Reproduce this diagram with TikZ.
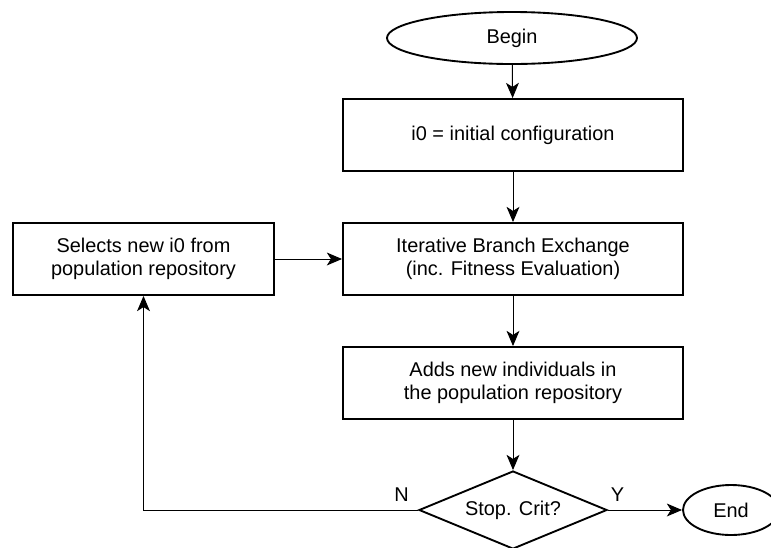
\documentclass[tikz,border=0pt]{standalone}
\usepackage{fontspec}
\setmainfont{Liberation Sans}
\usetikzlibrary{arrows.meta,positioning,shapes.geometric}
\tikzset{>={Stealth[length=13pt,width=11pt,inset=3.5pt]},line width=.85pt,
  every node/.style={font=\fontsize{17}{20}\selectfont},
  flow/.style={->,draw=black,line width=.85pt},
  terminal/.style={draw,ellipse,line width=1.6pt,inner sep=0pt},
  decision/.style={draw,diamond,aspect=2.4,line width=1.6pt,inner sep=0pt},
  branchlabel/.style={inner sep=2pt}}
\begin{document}
\begin{tikzpicture}[x=.03cm,y=-.03cm,block/.style={draw,line width=1.6pt,minimum width=10.2cm,minimum height=2.16cm,align=center}]
\useasboundingbox (0,0) rectangle (771,547);
\node[terminal,minimum width=7.5cm,minimum height=1.56cm] (begin) at (512,38) {Begin};
\node[block] (init) at (513,135) {i0 = initial configuration};
\node[block] (ibe) at (513,259) {Iterative Branch Exchange\\(inc. Fitness Evaluation)};
\node[block,minimum width=7.83cm] (select) at (143.5,259) {Selects new i0 from\\population repository};
\node[block] (adds) at (513,383) {Adds new individuals in\\the population repository};
\node[decision,minimum width=5.64cm,minimum height=2.34cm] (stop) at (513,510) {Stop. Crit?};
\node[terminal,minimum width=2.88cm,minimum height=1.5cm] (end) at (731,510) {End};
\draw[flow] (begin)--(init);\draw[flow] (init)--(ibe);
\draw[flow] (ibe)--(adds);\draw[flow] (adds)--(stop);
\draw[flow] (stop.east)--node[branchlabel,pos=.13,above=5pt] {Y}(end.west);
\draw[flow] (stop.west)-|node[branchlabel,pos=.03,above=5pt] {N}(select.south);
\draw[flow] (select.east)--(ibe.west);
\end{tikzpicture}
\end{document}
